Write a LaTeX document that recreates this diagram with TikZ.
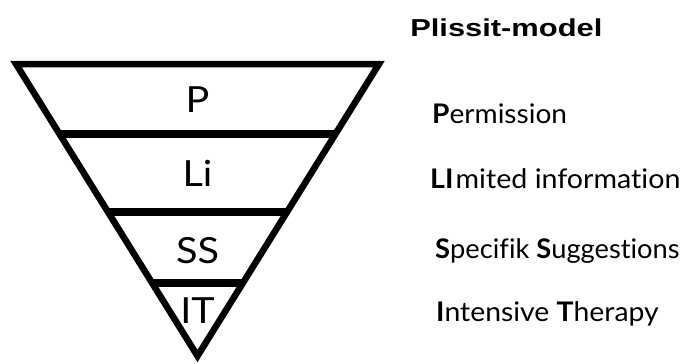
\documentclass[tikz,border=0pt]{standalone}
\usepackage{fontspec}
\usetikzlibrary{calc}
\setmainfont{Lato}[Ligatures={NoCommon}]
\newfontfamily\headfont{Liberation Sans}
\begin{document}
\begin{tikzpicture}[x=1pt,y=-1pt,
  edge/.style={line width=6.5pt, line join=miter},
  bar/.style={line width=8pt},
  lbl/.style={anchor=base, inner sep=0pt, font=\fontsize{36}{36}\selectfont, xscale=1.1},
  item/.style={anchor=base west, inner sep=0pt, font=\fontsize{27}{27}\selectfont},
  title/.style={anchor=base west, inner sep=0pt, font=\headfont\bfseries\fontsize{24.5}{24.5}\selectfont, xscale=1.26},
]
\useasboundingbox (0,0) rectangle (691,364);
\coordinate (tl) at (16,64);
\coordinate (tr) at (379,64);
\coordinate (ap) at (197.5,356);
\draw[edge] (tl) -- (tr) -- (ap) -- cycle;
% bars
\coordinate (b1l) at ($(tl)!0.2397!(ap)$);
\coordinate (b1r) at ($(tr)!0.2397!(ap)$);
\coordinate (b2l) at ($(tl)!0.5068!(ap)$);
\coordinate (b2r) at ($(tr)!0.5068!(ap)$);
\coordinate (b3l) at ($(tl)!0.75!(ap)$);
\coordinate (b3r) at ($(tr)!0.75!(ap)$);
\draw[bar] (b1l) -- (b1r);
\draw[bar] (b2l) -- (b2r);
\draw[bar] (b3l) -- (b3r);
% labels in triangle
\node[lbl] (lp) at (197.5,112.5) {P};
\node[lbl] (lli) at (197.5,186.5) {Li};
\node[lbl] (lss) at (197.5,263.3) {SS};
\node[lbl] (lit) at (197.5,323.3) {IT};
% title and items
\node[title] (ttl) at (410,36.7) {Plissit-model};
\node[item, xscale=1.04] (ip) at (432,123.5) {\textbf{P}ermission};
\node[item, xscale=1.06] (ili) at (430,188.3) {\textbf{LI}\hspace{2pt}mited information};
\node[item, xscale=1.01] (iss) at (435,258) {\textbf{S}pecifik \textbf{S}uggestions};
\node[item, xscale=1.05] (iit) at (436,321.7) {\textbf{I}ntensive \textbf{T}herapy};
\end{tikzpicture}
\end{document}
